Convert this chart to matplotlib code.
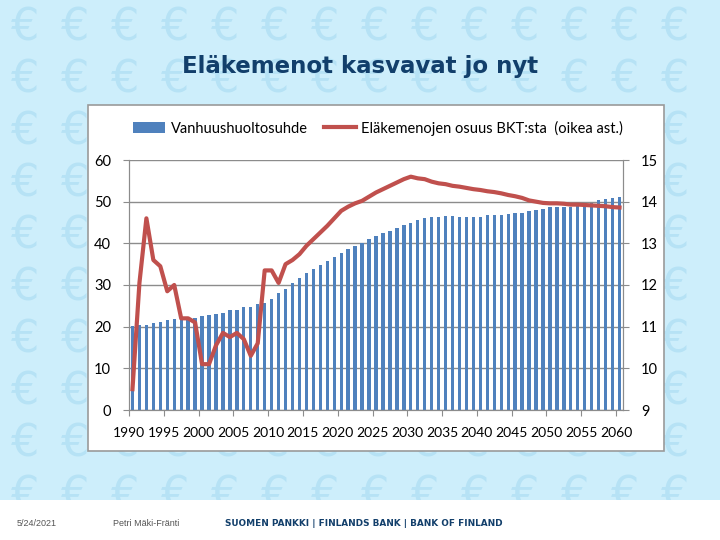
import numpy as np
import matplotlib.pyplot as plt
from matplotlib.patches import Rectangle
from matplotlib.lines import Line2D
from matplotlib.ticker import MultipleLocator

years = np.arange(1990, 2061)

# vanhuushuoltosuhde (left axis)
dependency = [20.2, 20.4, 20.4, 20.8, 21.2, 21.6, 21.9, 22.0, 21.9, 22.2,
              22.5, 22.7, 23.0, 23.3, 23.9, 23.9, 24.7, 24.7, 25.4, 25.7,
              26.6, 28.1, 29.0, 30.6, 31.8, 32.8, 33.8, 34.8, 35.8, 36.8,
              37.8, 38.6, 39.4, 40.0, 41.0, 41.8, 42.4, 43.0, 43.8, 44.3,
              45.0, 45.5, 46.0, 46.3, 46.4, 46.6, 46.6, 46.4, 46.3, 46.3,
              46.4, 46.7, 46.7, 46.9, 47.0, 47.2, 47.3, 47.7, 48.0, 48.3,
              48.7, 48.8, 48.8, 48.8, 49.0, 49.2, 49.8, 50.3, 50.6, 50.9,
              51.2]

# eläkemenojen osuus BKT:sta (right axis)
pension_gdp = [9.5, 12.05, 13.6, 12.6, 12.45, 11.85, 12.0, 11.2, 11.2, 11.1,
               10.1, 10.1, 10.55, 10.85, 10.75, 10.85, 10.7, 10.3, 10.6, 12.35,
               12.35, 12.05, 12.5, 12.6, 12.74, 12.94, 13.1, 13.26, 13.42, 13.6,
               13.78, 13.88, 13.96, 14.02, 14.12, 14.22, 14.3, 14.38, 14.46, 14.54,
               14.6, 14.56, 14.54, 14.48, 14.44, 14.42, 14.38, 14.36, 14.33, 14.3,
               14.28, 14.25, 14.23, 14.2, 14.16, 14.13, 14.09, 14.03, 14.0, 13.97,
               13.96, 13.96, 13.95, 13.93, 13.93, 13.92, 13.91, 13.9, 13.89, 13.87,
               13.86]

xlabel_years = list(range(1990, 2061, 5))
xlabels = [str(y) for y in xlabel_years]

bar_color = '#4F81BD'
line_color = '#C0504D'
navy = '#123F6B'
grey = '#8C8C8C'

fig = plt.figure(figsize=(7.2, 5.4), dpi=100)
fig.patch.set_facecolor('#CDEEFB')

# euro pattern in the background
for gx in range(25, 720, 50):
    for gy in range(28, 500, 52):
        fig.text(gx / 720, 1 - gy / 540, '€', fontsize=32, color='#B6E2F5',
                 ha='center', va='center', family='DejaVu Sans', zorder=0)

# footer strip and chart box
fig.patches.append(Rectangle((0, 0), 1, 40 / 540, transform=fig.transFigure,
                             facecolor='white', edgecolor='none', zorder=1))
fig.patches.append(Rectangle((88 / 720, 1 - 451 / 540), 576 / 720, 346 / 540,
                             transform=fig.transFigure, facecolor='white',
                             edgecolor='#9A9A9A', linewidth=1.2, zorder=1))

fig.text(0.5, 1 - 67 / 540, 'Eläkemenot kasvavat jo nyt', ha='center', va='center',
         fontsize=16.5, fontweight='bold', color=navy, family='DejaVu Sans', zorder=5)

fig.text(17 / 720, 1 - 524 / 540, '5/24/2021', fontsize=6.5, color='#555555',
         va='center', family='Liberation Sans', zorder=5)
fig.text(113 / 720, 1 - 524 / 540, 'Petri Mäki-Fränti', fontsize=6.5, color='#555555',
         va='center', family='Liberation Sans', zorder=5)
fig.text(225 / 720, 1 - 524 / 540, 'SUOMEN PANKKI | FINLANDS BANK | BANK OF FINLAND',
         fontsize=6.4, color=navy, fontweight='bold', va='center', family='DejaVu Sans',
         zorder=5)

ax = fig.add_axes([129 / 720, 1 - 410 / 540, 494 / 720, 250 / 540], zorder=2)
ax.set_facecolor('white')
ax.bar(years, dependency, width=0.48, color=bar_color, zorder=2)
ax.set_xlim(1989.5, 2060.5)
ax.set_ylim(0, 60)
ax.yaxis.set_major_locator(MultipleLocator(10))
ax.grid(axis='y', color=grey, linewidth=1, zorder=0)
ax.set_axisbelow(True)

ax.set_xticks([y - 0.5 for y in xlabel_years])
ax.set_xticklabels(xlabels)
ax.tick_params(axis='x', length=4, color=grey, pad=8, labelsize=10)
ax.tick_params(axis='y', length=4, color=grey, labelsize=10.5, pad=9)

ax.spines['top'].set_visible(False)
for s in ['left', 'bottom', 'right']:
    ax.spines[s].set_color(grey)

ax2 = ax.twinx()
ax2.set_zorder(3)
ax2.patch.set_visible(False)
ax2.plot(years, pension_gdp, color=line_color, linewidth=3, zorder=3,
         solid_joinstyle='round')
ax2.set_ylim(9, 15)
ax2.yaxis.set_major_locator(MultipleLocator(1))
ax2.tick_params(axis='y', length=4, color=grey, labelsize=10.5, pad=9)
ax2.spines['top'].set_visible(False)
for s in ['left', 'bottom', 'right']:
    ax2.spines[s].set_color(grey)

for a in (ax, ax2):
    for lab in a.get_xticklabels() + a.get_yticklabels():
        lab.set_family('Lato')

handles = [Rectangle((0, 0), 1, 1, facecolor=bar_color),
           Line2D([0], [0], color=line_color, linewidth=3)]
leg = fig.legend(handles, ['Vanhuushuoltosuhde', 'Eläkemenojen osuus BKT:sta  (oikea ast.)'],
                 loc='center', bbox_to_anchor=(378 / 720, 1 - 128 / 540), ncol=2,
                 frameon=False, prop={'family': 'Lato', 'size': 10.5},
                 handlelength=2.2, handletextpad=0.35, columnspacing=1.1)
leg.set_zorder(5)

fig.savefig('out.png', dpi=100, facecolor=fig.get_facecolor())
